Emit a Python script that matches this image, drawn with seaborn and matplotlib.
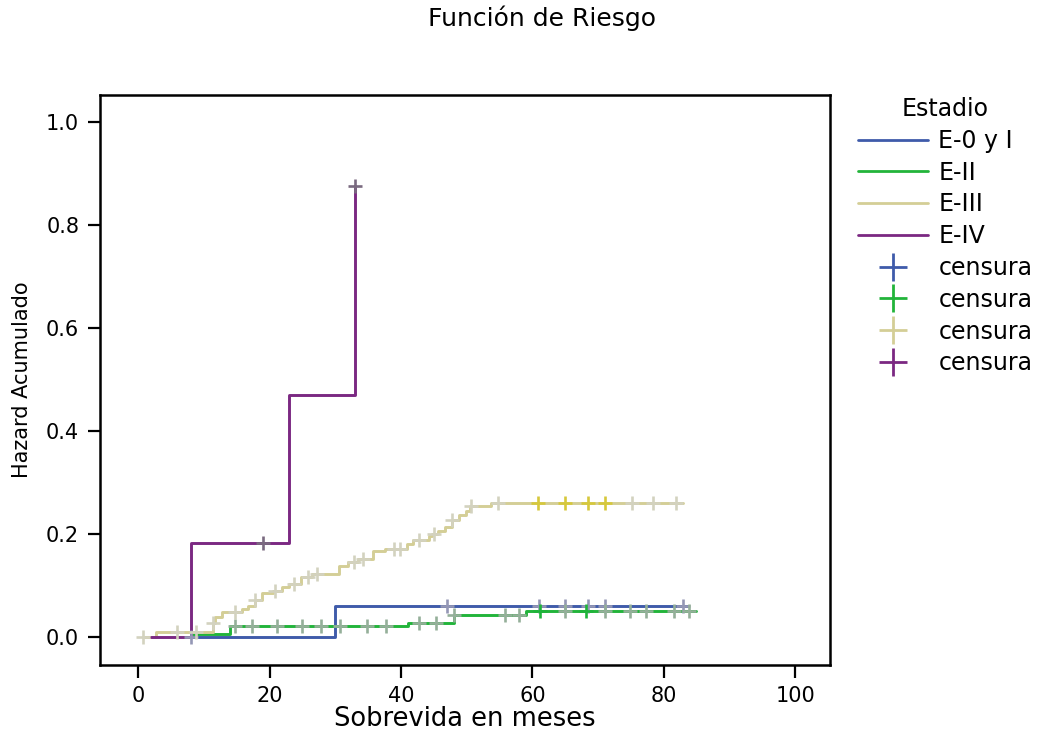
import numpy as np
import pandas as pd
import seaborn as sns
import matplotlib
matplotlib.use("Agg")
import matplotlib.pyplot as plt
from matplotlib.lines import Line2D

# ---------------- data ----------------
groups = ["E-0 y I", "E-II", "E-III", "E-IV"]
line_colors = ["#3F5BAA", "#22B43A", "#D4CE96", "#7B2882"]
censor_colors = ["#9497B5", "#94AF99", "#D3D2BF", "#7A6A80"]
censor_strong = ["#6E7DB8", "#1FB43A", "#D6C83C", "#7B2882"]

e0_t = [8, 30, 83.7]
e0_h = [0.0, 0.061, 0.061]
e0_ct = [8, 47, 61, 65, 68.5, 71, 83]
e0_cn = [1, 1, 1, 1, 1, 1, 1]

e2_t = [8, 14, 41, 48, 59, 84.9]
e2_h = [0.007, 0.021, 0.028, 0.043, 0.051, 0.051]
e2_ct = [14.8, 17.4, 21.1, 24.9, 27.9, 30.8, 34.9, 37.8, 42.8, 45.4, 48,
         55.9, 57.9, 61.2, 64.9, 68.2, 71.1, 74.9, 77.3, 81.6, 83.9]
e2_cn = [1, 1, 1, 1, 1, 1, 1, 1, 1, 1, 1, 1, 1, 2, 1, 2, 1, 1, 1, 1, 1]

e3_t = [0.7, 2.7, 11.4, 11.7, 12.8, 15.8, 16.8, 17.8, 18.8, 20.5, 21.9, 22.9,
        24.8, 26.4, 30.6, 32.0, 33.5, 35.7, 37.6, 40.9, 41.8, 44.2, 44.8, 45.7,
        46.7, 47.7, 48.8, 49.9, 50.5, 53.7, 82.9]
e3_h = [0.0, 0.010, 0.027, 0.039, 0.048, 0.054, 0.061, 0.072, 0.085, 0.090,
        0.098, 0.104, 0.116, 0.123, 0.139, 0.146, 0.151, 0.167, 0.172, 0.180,
        0.188, 0.197, 0.201, 0.206, 0.214, 0.228, 0.237, 0.245, 0.254, 0.261,
        0.261]
e3_ct = [0.7, 5.9, 8.8, 11.4, 14.8, 17.8, 20.9, 23.8, 25.8, 27.3, 32.8, 34.3,
         38.9, 39.8, 42.8, 45.0, 47.7, 50.6, 54.8, 60.8, 65.0, 68.5, 71.1,
         75.1, 78.3, 81.9]
e3_cn = [1] * 19 + [2, 2, 3, 2, 1, 1, 1]

e4_t = [2, 8, 23, 33]
e4_h = [0.0, 0.182, 0.47, 0.875]
e4_ct = [19, 33]
e4_cn = [1, 1]

x_ticks = [0, 20, 40, 60, 80, 100]
y_ticks = [0.0, 0.2, 0.4, 0.6, 0.8, 1.0]

series = [(e0_t, e0_h, e0_ct, e0_cn), (e2_t, e2_h, e2_ct, e2_cn),
          (e3_t, e3_h, e3_ct, e3_cn), (e4_t, e4_h, e4_ct, e4_cn)]

# ---------------- tables ----------------
line_rows, cens_rows = [], []
for g, (t, h, ct, cn) in zip(groups, series):
    for ti, hi in zip(t, h):
        line_rows.append((g, ti, hi))
    t_arr = np.asarray(t)
    h_arr = np.asarray(h)
    for c, n in zip(ct, cn):
        idx = max(np.searchsorted(t_arr, c, side="right") - 1, 0)
        cens_rows.append((g, c, h_arr[idx], n))
lines_df = pd.DataFrame(line_rows, columns=["Estadio", "t", "H"])
cens_df = pd.DataFrame(cens_rows, columns=["Estadio", "t", "H", "n"])

# ---------------- plot ----------------
sns.set_style("ticks")
plt.rcParams["font.family"] = ["DejaVu Sans"]
plt.rcParams["text.color"] = "black"
plt.rcParams["axes.labelcolor"] = "black"
plt.rcParams["xtick.color"] = "black"
plt.rcParams["ytick.color"] = "black"

fig = plt.figure(figsize=(10.55, 7.33), dpi=100)
ax = fig.add_axes([100 / 1055, 1 - 665 / 733, 730 / 1055, 570 / 733])

sns.lineplot(data=lines_df, x="t", y="H", hue="Estadio", hue_order=groups,
             palette=line_colors, drawstyle="steps-post", estimator=None,
             sort=True, linewidth=2.1, legend=False, ax=ax)

for g, cc, cs in zip(groups, censor_colors, censor_strong):
    sub = cens_df[cens_df["Estadio"] == g]
    weak = sub[sub["n"] == 1]
    strong = sub[sub["n"] > 1]
    sns.scatterplot(data=weak, x="t", y="H", marker="+", s=115,
                    color=cc, linewidth=1.9, ax=ax, legend=False, zorder=5)
    if len(strong):
        sns.scatterplot(data=strong, x="t", y="H", marker="+", s=115,
                        color=cs, linewidth=1.9, ax=ax, legend=False, zorder=6)

ax.set_xlim(-5.8, 105.3)
ax.set_ylim(-0.054, 1.052)
ax.set_xticks(x_ticks)
ax.set_yticks(y_ticks)
ax.set_yticklabels([f"{v:.1f}" for v in y_ticks])
ax.tick_params(axis="both", direction="out", length=9, width=1.6,
               labelsize=15, pad=6, color="black", labelcolor="black")
for sp in ax.spines.values():
    sp.set_visible(True)
    sp.set_linewidth(1.8)
    sp.set_color("black")

ax.set_xlabel("Sobrevida en meses", fontsize=18.5, color="black")
ax.xaxis.set_label_coords(0.5, -0.072)
ax.set_ylabel("Hazard Acumulado", fontsize=15, color="black")
ax.yaxis.set_label_coords(-0.093, 0.5)

fig.text(0.514, 0.975, "Función de Riesgo", ha="center", va="center",
         fontsize=18, color="black")

handles = [Line2D([], [], color=c, linewidth=2.0) for c in line_colors]
handles += [Line2D([], [], color=c, linestyle="none", marker="+",
                   markersize=20, markeredgewidth=2.0) for c in line_colors]
labels = groups + ["censura"] * 4
leg = fig.legend(handles, labels, title="Estadio", loc="upper left",
                 bbox_to_anchor=(858 / 1055, 1 - 97 / 733), frameon=False,
                 fontsize=17, title_fontsize=17, handlelength=2.95,
                 handletextpad=0.45, labelspacing=0.33, borderpad=0,
                 borderaxespad=0)
for txt in leg.get_texts():
    txt.set_color("black")
leg.get_title().set_color("black")

fig.savefig("out.png", dpi=100)
